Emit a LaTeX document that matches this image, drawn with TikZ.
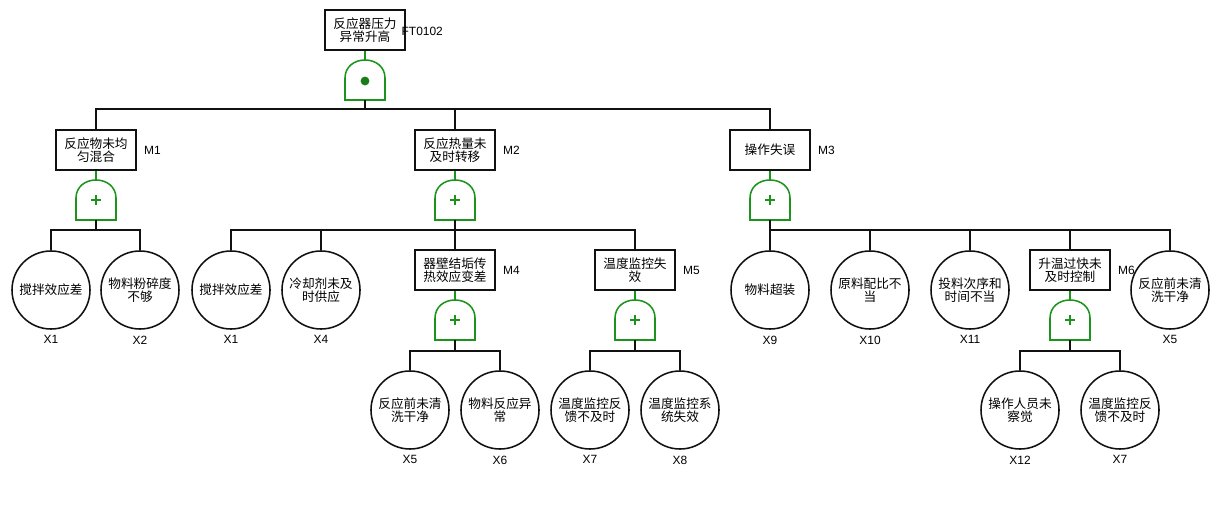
\documentclass[tikz,border=0pt]{standalone}
\usepackage{fontspec}
\setmainfont{Liberation Sans}
\newfontfamily\cjk{Noto Sans CJK SC}
\usetikzlibrary{positioning}
\definecolor{gategreen}{HTML}{1C941C}
\definecolor{wireblack}{HTML}{111111}

\tikzset{
  eventbox/.style={draw=wireblack, line width=1.1pt, minimum width=2cm, minimum height=1cm, inner sep=1pt, align=center, font=\cjk\fontsize{9}{9.5}\selectfont},
  basicevent/.style={draw=wireblack, circle, line width=1.1pt, minimum size=1.95cm, inner sep=0pt, align=center, font=\cjk\fontsize{9}{9.5}\selectfont},
  tagtext/.style={font=\fontsize{8.5}{8.5}\selectfont, inner sep=1pt},
  wire/.style={wireblack, line width=1.1pt},
  feed/.style={gategreen, line width=1.1pt},
  orgate/.pic={
    \draw[gategreen, line width=1.1pt] (-20,20) -- (-20,-2) .. controls (-20,-13) and (-11,-20) .. (0,-20) .. controls (11,-20) and (20,-13) .. (20,-2) -- (20,20) -- cycle;
    \draw[gategreen, line width=1.2pt] (-5,0) -- (5,0) (0,-5) -- (0,5);
    \coordinate (-in) at (0,-20);
    \coordinate (-out) at (0,20);
  },
  andgate/.pic={
    \draw[gategreen, line width=1.1pt] (-20,20) -- (-20,-2) .. controls (-20,-13) and (-11,-20) .. (0,-20) .. controls (11,-20) and (20,-13) .. (20,-2) -- (20,20) -- cycle;
    \fill[gategreen!85!black] (0,1) circle (0.11cm);
    \coordinate (-in) at (0,-20);
    \coordinate (-out) at (0,20);
  }
}

\begin{document}
\begin{tikzpicture}[x=0.025cm, y=-0.025cm]
  \useasboundingbox (0,0) rectangle (1220,510);

  % Top event and its AND gate
  \node[eventbox] (top) at (365,30) {反应器压力\\异常升高};
  \node[tagtext, anchor=west] (toptag) at (400,31) {FT0102};
  \pic (g0) at (365,80) {andgate};
  \draw[feed] (top.south) -- (g0-in);

  % Intermediate events, first level
  \node[eventbox] (m1) at (96,150) {反应物未均\\匀混合};
  \node[eventbox] (m2) at (455,150) {反应热量未\\及时转移};
  \node[eventbox] (m3) at (770,150) {操作失误};
  \node[tagtext, right=4pt of m1] (m1tag) {M1};
  \node[tagtext, right=4pt of m2] (m2tag) {M2};
  \node[tagtext, right=4pt of m3] (m3tag) {M3};
  \pic (g1) at (96,200) {orgate};
  \pic (g2) at (455,200) {orgate};
  \pic (g3) at (770,200) {orgate};

  % Intermediate events, second level
  \node[eventbox] (m4) at (455,270) {器壁结垢传\\热效应变差};
  \node[eventbox] (m5) at (635,270) {温度监控失\\效};
  \node[eventbox] (m6) at (1070,270) {升温过快未\\及时控制};
  \node[tagtext, right=4pt of m4] (m4tag) {M4};
  \node[tagtext, right=4pt of m5] (m5tag) {M5};
  \node[tagtext, right=4pt of m6] (m6tag) {M6};
  \pic (g4) at (455,320) {orgate};
  \pic (g5) at (635,320) {orgate};
  \pic (g6) at (1070,320) {orgate};

  % Basic events
  \foreach \n/\x/\y/\t/\id in {
      x1a/51/290/{搅拌效应差}/X1, x2/140/290/{物料粉碎度\\不够}/X2,
      x1b/231/290/{搅拌效应差}/X1, x4/321/290/{冷却剂未及\\时供应}/X4,
      x5a/410/410/{反应前未清\\洗干净}/X5, x6/500/410/{物料反应异\\常}/X6,
      x7a/590/410/{温度监控反\\馈不及时}/X7, x8/680/410/{温度监控系\\统失效}/X8,
      x9/770/290/{物料超装}/X9, x10/870/290/{原料配比不\\当}/X10,
      x11/970/290/{投料次序和\\时间不当}/X11, x5b/1170/290/{反应前未清\\洗干净}/X5,
      x12/1020/410/{操作人员未\\察觉}/X12, x7b/1120/410/{温度监控反\\馈不及时}/X7} {
    \node[basicevent] (\n) at (\x,\y) {\t};
    \node[tagtext, below=3pt of \n] (\n tag) {\id};
  }

  % Gate inputs
  \foreach \m/\g in {m1/g1, m2/g2, m3/g3, m4/g4, m5/g5, m6/g6}
    \draw[feed] (\m.south) -- (\g-in);

  % Gate outputs to the events below
  \foreach \c in {m1, m2, m3}
    \draw[wire] (g0-out) -- ++(0,9) -| (\c.north);
  \foreach \c in {x1a, x2}
    \draw[wire] (g1-out) -- ++(0,10) -| (\c.north);
  \foreach \c in {x1b, x4, m4, m5}
    \draw[wire] (g2-out) -- ++(0,10) -| (\c.north);
  \foreach \c in {x9, x10, x11, m6, x5b}
    \draw[wire] (g3-out) -- ++(0,10) -| (\c.north);
  \foreach \c in {x5a, x6}
    \draw[wire] (g4-out) -- ++(0,11) -| (\c.north);
  \foreach \c in {x7a, x8}
    \draw[wire] (g5-out) -- ++(0,11) -| (\c.north);
  \foreach \c in {x12, x7b}
    \draw[wire] (g6-out) -- ++(0,11) -| (\c.north);
\end{tikzpicture}
\end{document}
